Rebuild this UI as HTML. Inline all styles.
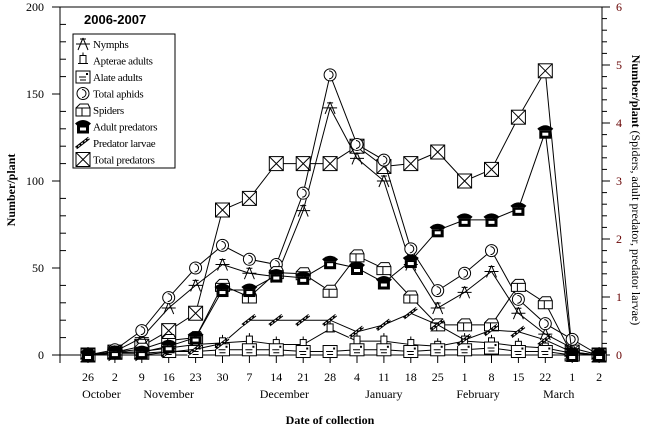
<!DOCTYPE html>
<html><head><meta charset="utf-8"><style>
html,body{margin:0;padding:0;background:#fff;}
svg{display:block;font-family:"Liberation Serif",serif;}
</style></head><body>
<svg id="chart" width="645" height="427" viewBox="0 0 645 427">
<g id="axes"></g><g id="series"></g><g id="legend"></g>
</svg>
<script>
const categories=["26","2","9","16","23","30","7","14","21","28","4","11","18","25","1","8","15","22","1","2"];
const months=[["October",0.5],["November",3],["December",7.3],["January",11],["February",14.5],["March",17.5]];
const leftTicks=[0,50,100,150,200];
const rightTicks=[0,1,2,3,4,5,6];
const nymphs=[0,2,10,27,40,52,47,45,83,142,113,100,52,27,36,48,24,12,4,0];
const apterae=[0,1,2,4,6,7,8,6,6,15,8,8,6,5,8,7,5,4,1,0];
const alate=[0,1,1,2,2,3,3,3,2,2,3,3,2,3,3,4,2,2,0,0];
const totalAphids=[0,3,14,33,50,63,55,52,93,161,121,112,61,37,47,60,32,18,9,0];
const spiders=[0,0.05,0.1,0.25,0.3,1.2,1.0,1.42,1.4,1.1,1.71,1.49,1.0,0.52,0.52,0.52,1.2,0.9,0,0];
const adultPred=[0,0.05,0.05,0.15,0.3,1.12,1.12,1.37,1.33,1.6,1.5,1.25,1.62,2.15,2.33,2.33,2.52,3.85,0,0];
const larvae=[0,0,0,0.05,0.1,0.2,0.6,0.6,0.6,0.6,0.4,0.52,0.72,0.52,0.26,0.43,0.4,0.26,0.05,0];
const totalPred=[0,0.05,0.15,0.42,0.72,2.5,2.7,3.3,3.3,3.3,3.6,3.25,3.3,3.5,3.0,3.2,4.1,4.9,0.05,0];

const NS="http://www.w3.org/2000/svg";
const X0=60,X1=602,Y0=355,Y1=7;
const x=i=>88+i*26.9;
const yL=v=>Y0-(v/200)*(Y0-Y1);
const yR=v=>Y0-(v/6)*(Y0-Y1);
function mk(tag,attrs,parent,text){const e=document.createElementNS(NS,tag);for(const k in attrs)e.setAttribute(k,attrs[k]);if(text!==undefined)e.textContent=text;parent.appendChild(e);return e;}
const axes=document.getElementById('axes');
let e;
e=mk('line',{x1:X0,y1:Y1,x2:X0,y2:Y0,stroke:'#000'},axes);


e=mk('line',{x1:X1,y1:Y1,x2:X1,y2:Y0,stroke:'#000'},axes);


e=mk('line',{x1:X0,y1:Y1,x2:X1,y2:Y1,stroke:'#000'},axes);


e=mk('line',{x1:52,y1:Y0,x2:X1,y2:Y0,stroke:'#000'},axes);


for(let v=0;v<=200;v+=10){const yy=yL(v);
 if(v%50===0){mk('line',{x1:52,y1:yy,x2:X0,y2:yy,stroke:'#000'},axes);
  e=mk('text',{x:44,y:yy+4,'text-anchor':'end','font-size':12},axes,String(v));
  
  }
 else mk('line',{x1:X0,y1:yy,x2:X0+6,y2:yy,stroke:'#000'},axes);}
for(let k=0;k<=30;k++){const v=k*0.2,yy=yR(v);
 mk('line',{x1:X1,y1:yy,x2:X1+(k%5===0?8:5),y2:yy,stroke:'#000'},axes);
 if(k%5===0){e=mk('text',{x:616,y:yy+4,'font-size':12,fill:'#600'},axes,String(rightTicks[k/5]));
  
  }}
mk('line',{x1:X0,y1:Y0,x2:X0,y2:Y0+8,stroke:'#000'},axes);
categories.forEach((c,i)=>{mk('line',{x1:x(i),y1:Y0,x2:x(i),y2:Y0+8,stroke:'#000'},axes);
 e=mk('text',{x:x(i),y:381,'text-anchor':'middle','font-size':12},axes,c);
 
 });
months.forEach(m=>{e=mk('text',{x:x(m[1]),y:398,'text-anchor':'middle','font-size':12},axes,m[0]);
 
 });
e=mk('text',{x:330,y:424,'text-anchor':'middle','font-size':12,'font-weight':'bold'},axes,'Date of collection');


e=mk('text',{x:0,y:0,transform:'translate(15,190) rotate(-90)','text-anchor':'middle','font-size':12,'font-weight':'bold'},axes,'Number/plant');


e=mk('text',{x:0,y:0,transform:'translate(632,190) rotate(90)','text-anchor':'middle','font-size':12},axes);


mk('tspan',{'font-weight':'bold'},e,'Number/plant ');
mk('tspan',{},e,'(Spiders, adult predator, predator larvae)');

function marker(g,type,cx,cy){
 const s='#000';
 if(type==='nymph'){mk('path',{d:`M${cx-7} ${cy}H${cx+7}M${cx} ${cy-6}L${cx-5} ${cy+6}M${cx} ${cy-6}L${cx+5} ${cy+6}M${cx-3} ${cy-5}h6`,stroke:s,fill:'none'},g);}
 else if(type==='apt'){mk('rect',{x:cx-3,y:cy-5,width:6,height:8,fill:'#fff',stroke:s},g);mk('path',{d:`M${cx-5} ${cy+3}h10M${cx} ${cy-8}v3`,stroke:s},g);}
 else if(type==='alate'){mk('rect',{x:cx-7,y:cy-6,width:14,height:12,fill:'#fff',stroke:s},g);mk('path',{d:`M${cx-4} ${cy}h7M${cx-3} ${cy+3}h6`,stroke:s},g);mk('rect',{x:cx+3,y:cy-4,width:2,height:2,fill:s},g);}
 else if(type==='aphid'){mk('circle',{cx:cx,cy:cy,r:6,fill:'#fff',stroke:s},g);mk('path',{d:`M${cx-1} ${cy-4}a3 3 0 1 1 0 8`,stroke:s,fill:'none'},g);}
 else if(type==='spider'){mk('path',{d:`M${cx-7} ${cy+6}V${cy-2}L${cx-3} ${cy-6}H${cx+5}L${cx+7} ${cy-2}V${cy+6}Z`,fill:'#fff',stroke:s},g);mk('path',{d:`M${cx-7} ${cy-2}H${cx+7}M${cx-1} ${cy-2}v8`,stroke:s},g);}
 else if(type==='adult'){mk('path',{d:`M${cx-8} ${cy-3}Q${cx} ${cy-10} ${cx+8} ${cy-3}L${cx+6} ${cy-1}H${cx-6}Z`,fill:s},g);mk('rect',{x:cx-6,y:cy-1,width:12,height:8,fill:s},g);mk('rect',{x:cx-3,y:cy+1,width:6,height:3,fill:'#fff'},g);}
 else if(type==='larva'){mk('path',{d:`M${cx-7} ${cy+5}L${cx+6} ${cy-5}`,stroke:s,'stroke-width':3},g);mk('path',{d:`M${cx-8} ${cy+6}L${cx+7} ${cy-6}`,stroke:'#fff','stroke-width':1,'stroke-dasharray':'2 2'},g);}
 else if(type==='total'){mk('rect',{x:cx-7,y:cy-7,width:14,height:14,fill:'#fff',stroke:s},g);mk('path',{d:`M${cx-7} ${cy-7}L${cx+7} ${cy+7}M${cx-7} ${cy+7}L${cx+7} ${cy-7}`,stroke:s},g);}
}
const seriesDefs=[
 ['total-predators-series',totalPred,yR,'total'],
 ['nymphs-series',nymphs,yL,'nymph'],['apterae-series',apterae,yL,'apt'],['alate-series',alate,yL,'alate'],
 ['total-aphids-series',totalAphids,yL,'aphid'],['spiders-series',spiders,yR,'spider'],
 ['predator-larvae-series',larvae,yR,'larva'],
 ['adult-predators-series',adultPred,yR,'adult']];
const sg=document.getElementById('series');
seriesDefs.forEach(([name,data,ys,type])=>{
 const g=mk('g',{},sg);
 
 
 mk('polyline',{points:data.map((v,i)=>x(i)+','+ys(v)).join(' '),fill:'none',stroke:'#000','stroke-width':1},g);
 data.forEach((v,i)=>marker(g,type,x(i),ys(v)));
});
const lg=document.getElementById('legend');


e=mk('text',{x:84,y:24,'font-size':13,'font-weight':'bold','font-family':'Liberation Sans, sans-serif'},lg,'2006-2007');


mk('rect',{x:73,y:34,width:102,height:134,fill:'#fff',stroke:'#000'},lg);
const legendLabels=['Nymphs','Apterae adults','Alate adults','Total aphids','Spiders','Adult predators','Predator larvae','Total predators'];
const legendTypes=['nymph','apt','alate','aphid','spider','adult','larva','total'];
legendLabels.forEach((l,i)=>{const yy=44+i*16.5;const g=mk('g',{},lg);
 
 
 marker(g,legendTypes[i],83,yy);
 mk('text',{x:93,y:yy+4,'font-size':11,'letter-spacing':'-0.3'},g,l);});
</script>
</body></html>
